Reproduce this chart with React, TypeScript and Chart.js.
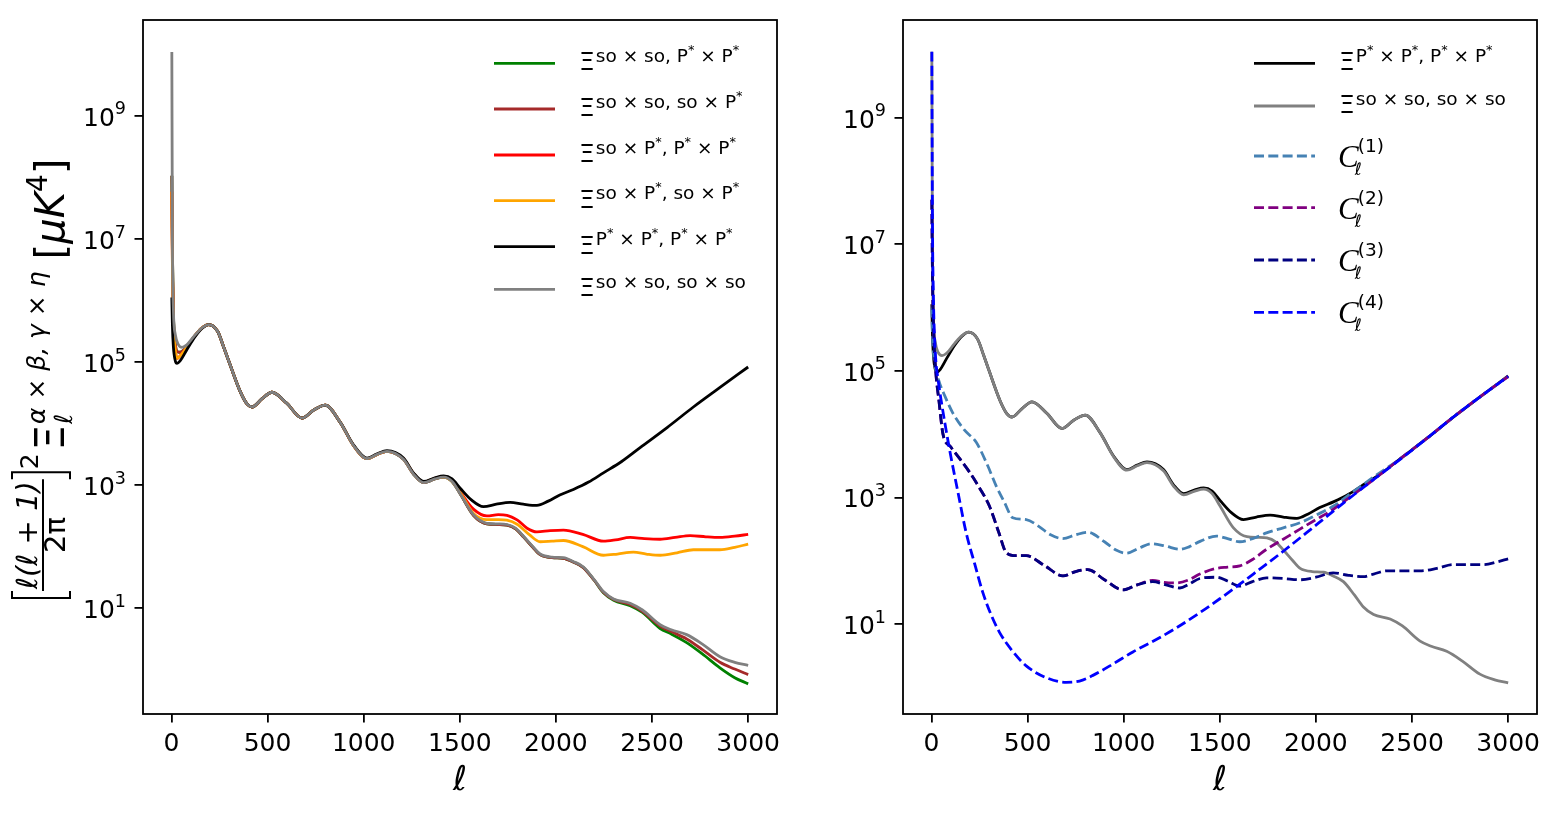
import React, { useEffect, useRef } from "react";
import { Chart, registerables } from "chart.js";
Chart.register(...registerables);

// ---------- axes ----------
const X_TICKS = [0, 500, 1000, 1500, 2000, 2500, 3000];
const Y_TICK_EXPONENTS = [1, 3, 5, 7, 9];

// ---------- data (ℓ and log10 of the value) ----------
const GRAY_L = [2, 5, 10, 20, 35, 55, 80, 120, 160, 194, 240, 271, 300, 358, 393, 419, 470, 523, 600, 679, 740, 800, 878, 948, 1017, 1070, 1121, 1207, 1259, 1312, 1370, 1416, 1460, 1502, 1571, 1641, 1700, 1745, 1790, 1831, 1880, 1918, 1980, 2039, 2090, 2143, 2200, 2247, 2300, 2386, 2450, 2542, 2600, 2680, 2760, 2853, 2930, 3000];
const GRAY_V = [10.04, 7.0, 5.85, 5.45, 5.29, 5.24, 5.28, 5.43, 5.56, 5.61, 5.5, 5.25, 5.0, 4.52, 4.32, 4.27, 4.4, 4.51, 4.33, 4.09, 4.22, 4.3, 4.02, 3.64, 3.43, 3.5, 3.55, 3.42, 3.18, 3.04, 3.1, 3.13, 3.06, 2.86, 2.52, 2.38, 2.37, 2.36, 2.3, 2.17, 2.0, 1.88, 1.83, 1.82, 1.76, 1.67, 1.46, 1.27, 1.15, 1.08, 0.97, 0.73, 0.65, 0.57, 0.42, 0.21, 0.12, 0.07];

const BLACK_L = [2, 5, 10, 20, 29, 45, 80, 120, 160, 194, 240, 271, 300, 358, 393, 419, 470, 523, 600, 679, 740, 800, 878, 948, 1017, 1070, 1121, 1207, 1259, 1312, 1370, 1416, 1460, 1502, 1560, 1623, 1690, 1762, 1830, 1901, 1960, 2020, 2091, 2170, 2247, 2340, 2438, 2580, 2715, 2850, 3000];
const BLACK_V = [6.05, 5.6, 5.25, 5.02, 4.98, 5.02, 5.2, 5.4, 5.55, 5.61, 5.5, 5.25, 5.0, 4.52, 4.32, 4.27, 4.4, 4.51, 4.33, 4.09, 4.22, 4.3, 4.02, 3.65, 3.44, 3.51, 3.56, 3.44, 3.2, 3.06, 3.12, 3.15, 3.1, 2.95, 2.76, 2.65, 2.69, 2.72, 2.69, 2.67, 2.74, 2.84, 2.93, 3.05, 3.2, 3.38, 3.61, 3.94, 4.27, 4.58, 4.92];

const RED_L = [2, 5, 10, 20, 30, 45, 80, 120, 160, 194, 240, 271, 300, 358, 393, 419, 470, 523, 600, 679, 740, 800, 878, 948, 1017, 1070, 1121, 1207, 1259, 1312, 1370, 1416, 1460, 1502, 1571, 1641, 1700, 1745, 1800, 1850, 1901, 1970, 2039, 2140, 2247, 2310, 2386, 2460, 2542, 2620, 2698, 2780, 2853, 2930, 3000];
const RED_V = [7.77, 6.6, 5.7, 5.2, 5.06, 5.1, 5.24, 5.42, 5.56, 5.61, 5.5, 5.25, 5.0, 4.52, 4.32, 4.27, 4.4, 4.51, 4.33, 4.09, 4.22, 4.3, 4.02, 3.64, 3.43, 3.5, 3.55, 3.43, 3.19, 3.05, 3.11, 3.14, 3.07, 2.89, 2.61, 2.5, 2.52, 2.51, 2.43, 2.3, 2.24, 2.26, 2.27, 2.2, 2.09, 2.11, 2.15, 2.13, 2.12, 2.15, 2.18, 2.16, 2.15, 2.17, 2.2];

const ORANGE_L = [2, 5, 10, 20, 30, 45, 80, 120, 160, 194, 240, 271, 300, 358, 393, 419, 470, 523, 600, 679, 740, 800, 878, 948, 1017, 1070, 1121, 1207, 1259, 1312, 1370, 1416, 1460, 1502, 1571, 1641, 1700, 1745, 1800, 1860, 1918, 1980, 2039, 2140, 2247, 2320, 2403, 2470, 2542, 2630, 2715, 2790, 2853, 2930, 3000];
const ORANGE_V = [7.77, 6.6, 5.7, 5.2, 5.06, 5.1, 5.24, 5.42, 5.56, 5.61, 5.5, 5.25, 5.0, 4.52, 4.32, 4.27, 4.4, 4.51, 4.33, 4.09, 4.22, 4.3, 4.02, 3.64, 3.43, 3.5, 3.55, 3.43, 3.19, 3.05, 3.11, 3.13, 3.06, 2.88, 2.54, 2.44, 2.44, 2.43, 2.36, 2.2, 2.08, 2.09, 2.1, 2.0, 1.86, 1.88, 1.91, 1.88, 1.86, 1.9, 1.95, 1.95, 1.95, 1.99, 2.04];

const BROWN_L = [2, 5, 10, 20, 30, 45, 80, 120, 160, 194, 240, 271, 300, 358, 393, 419, 470, 523, 600, 679, 740, 800, 878, 948, 1017, 1070, 1121, 1207, 1259, 1312, 1370, 1416, 1460, 1502, 1571, 1641, 1700, 1745, 1790, 1831, 1880, 1918, 1980, 2039, 2090, 2143, 2200, 2247, 2300, 2386, 2450, 2542, 2600, 2680, 2760, 2853, 2930, 3000];
const BROWN_V = [8.03, 6.8, 5.8, 5.3, 5.17, 5.16, 5.25, 5.42, 5.56, 5.61, 5.5, 5.25, 5.0, 4.52, 4.32, 4.27, 4.4, 4.51, 4.33, 4.09, 4.22, 4.3, 4.02, 3.64, 3.43, 3.5, 3.55, 3.42, 3.18, 3.04, 3.1, 3.13, 3.06, 2.86, 2.51, 2.37, 2.36, 2.35, 2.29, 2.16, 1.99, 1.87, 1.82, 1.81, 1.75, 1.66, 1.45, 1.26, 1.14, 1.06, 0.95, 0.71, 0.62, 0.5, 0.33, 0.12, 0.01, -0.08];

const GREEN_L = [2, 5, 10, 20, 30, 45, 80, 120, 160, 194, 240, 271, 300, 358, 393, 419, 470, 523, 600, 679, 740, 800, 878, 948, 1017, 1070, 1121, 1207, 1259, 1312, 1370, 1416, 1460, 1502, 1571, 1641, 1700, 1745, 1790, 1831, 1880, 1918, 1980, 2039, 2090, 2143, 2200, 2247, 2300, 2386, 2450, 2542, 2600, 2680, 2760, 2853, 2930, 3000];
const GREEN_V = [8.03, 6.8, 5.8, 5.3, 5.17, 5.16, 5.25, 5.42, 5.56, 5.61, 5.5, 5.25, 5.0, 4.52, 4.32, 4.27, 4.4, 4.51, 4.33, 4.09, 4.22, 4.3, 4.02, 3.64, 3.43, 3.5, 3.55, 3.42, 3.18, 3.04, 3.1, 3.13, 3.06, 2.86, 2.51, 2.37, 2.36, 2.35, 2.29, 2.16, 1.99, 1.87, 1.82, 1.81, 1.75, 1.66, 1.45, 1.25, 1.13, 1.04, 0.93, 0.67, 0.58, 0.44, 0.26, 0.03, -0.13, -0.23];

const C1_L = [2, 5, 10, 20, 42, 70, 110, 170, 233, 290, 337, 380, 423, 493, 560, 620, 683, 750, 813, 900, 960, 1014, 1080, 1144, 1220, 1292, 1340, 1400, 1483, 1540, 1604, 1680, 1743, 1830, 1917, 2000, 2089, 2190, 2299, 2438, 2580, 2715, 2850, 3000];
const C1_V = [6.0, 5.6, 5.3, 5.05, 4.81, 4.6, 4.34, 4.07, 3.87, 3.52, 3.18, 2.92, 2.68, 2.65, 2.54, 2.41, 2.35, 2.41, 2.45, 2.3, 2.17, 2.12, 2.2, 2.27, 2.23, 2.18, 2.22, 2.31, 2.39, 2.35, 2.3, 2.36, 2.44, 2.52, 2.6, 2.72, 2.86, 3.08, 3.32, 3.61, 3.94, 4.27, 4.58, 4.91];

const C2_L = [2, 5, 10, 20, 40, 60, 100, 150, 198, 250, 302, 350, 389, 440, 493, 590, 684, 750, 813, 900, 996, 1070, 1151, 1210, 1274, 1340, 1396, 1483, 1540, 1604, 1670, 1743, 1830, 1917, 2000, 2089, 2170, 2264, 2350, 2438, 2580, 2715, 2850, 3000];
const C2_V = [7.7, 6.6, 5.8, 5.1, 4.5, 4.0, 3.8, 3.6, 3.4, 3.15, 2.86, 2.45, 2.13, 2.08, 2.08, 1.92, 1.76, 1.83, 1.86, 1.7, 1.54, 1.62, 1.69, 1.66, 1.65, 1.7, 1.79, 1.88, 1.9, 1.92, 2.02, 2.18, 2.34, 2.5, 2.65, 2.81, 2.99, 3.2, 3.4, 3.61, 3.94, 4.27, 4.58, 4.91];

const C3_L = [2, 5, 10, 20, 40, 60, 100, 150, 198, 250, 302, 350, 389, 440, 493, 590, 684, 750, 813, 900, 996, 1070, 1151, 1220, 1292, 1340, 1396, 1483, 1540, 1604, 1670, 1743, 1830, 1917, 2000, 2089, 2170, 2247, 2300, 2368, 2450, 2542, 2630, 2715, 2800, 2872, 2940, 3000];
const C3_V = [7.7, 6.6, 5.8, 5.1, 4.5, 4.0, 3.8, 3.6, 3.4, 3.15, 2.86, 2.45, 2.13, 2.08, 2.08, 1.92, 1.76, 1.83, 1.86, 1.7, 1.54, 1.62, 1.67, 1.62, 1.57, 1.63, 1.72, 1.74, 1.68, 1.6, 1.67, 1.73, 1.72, 1.7, 1.74, 1.81, 1.77, 1.75, 1.79, 1.84, 1.84, 1.84, 1.88, 1.94, 1.94, 1.94, 1.98, 2.03];

const C4_L = [2, 5, 10, 20, 35, 50, 94, 140, 180, 225, 267, 310, 354, 420, 493, 600, 701, 770, 840, 950, 1048, 1160, 1274, 1396, 1500, 1604, 1700, 1830, 1950, 2089, 2264, 2438, 2580, 2715, 2850, 3000];
const C4_V = [10.04, 7.5, 6.2, 5.3, 4.85, 4.54, 3.76, 3.05, 2.45, 1.95, 1.5, 1.15, 0.87, 0.58, 0.34, 0.15, 0.08, 0.1, 0.19, 0.38, 0.56, 0.74, 0.94, 1.18, 1.4, 1.63, 1.85, 2.15, 2.44, 2.78, 3.2, 3.6, 3.94, 4.27, 4.58, 4.91];

// ---------- legend texts ----------
const LEFT_LABELS = ["so × so, P* × P*", "so × so, so × P*", "so × P*, P* × P*", "so × P*, so × P*", "P* × P*, P* × P*", "so × so, so × so"];
const RIGHT_XI_LABELS = ["P* × P*, P* × P*", "so × so, so × so"];
const RIGHT_C_LABELS = ["(1)", "(2)", "(3)", "(4)"];

const SANS = '"DejaVu Sans", sans-serif';
const SERIF = '"Liberation Serif", "DejaVu Serif", serif';
const LINE_W = 2.8;
const DASH = [10, 4.3];
const TICK_FONT = 25;

type Series = { l: number[]; v: number[]; color: string; dashed?: boolean; label: string; kind: "xi" | "c" };

const LEFT_SERIES: Series[] = [
  { l: GREEN_L, v: GREEN_V, color: "#008000", label: LEFT_LABELS[0], kind: "xi" },
  { l: BROWN_L, v: BROWN_V, color: "#a52a2a", label: LEFT_LABELS[1], kind: "xi" },
  { l: RED_L, v: RED_V, color: "#ff0000", label: LEFT_LABELS[2], kind: "xi" },
  { l: ORANGE_L, v: ORANGE_V, color: "#ffa500", label: LEFT_LABELS[3], kind: "xi" },
  { l: BLACK_L, v: BLACK_V, color: "#000000", label: LEFT_LABELS[4], kind: "xi" },
  { l: GRAY_L, v: GRAY_V, color: "#808080", label: LEFT_LABELS[5], kind: "xi" },
];
const RIGHT_SERIES: Series[] = [
  { l: BLACK_L, v: BLACK_V, color: "#000000", label: RIGHT_XI_LABELS[0], kind: "xi" },
  { l: GRAY_L, v: GRAY_V, color: "#808080", label: RIGHT_XI_LABELS[1], kind: "xi" },
  { l: C1_L, v: C1_V, color: "#4682b4", dashed: true, label: RIGHT_C_LABELS[0], kind: "c" },
  { l: C2_L, v: C2_V, color: "#800080", dashed: true, label: RIGHT_C_LABELS[1], kind: "c" },
  { l: C3_L, v: C3_V, color: "#000080", dashed: true, label: RIGHT_C_LABELS[2], kind: "c" },
  { l: C4_L, v: C4_V, color: "#0000ff", dashed: true, label: RIGHT_C_LABELS[3], kind: "c" },
];

type Panel = {
  series: Series[];
  axisLeft: number;
  padRight: number;
  yMinExp: number;
  yMaxExp: number;
  legendRows: number[];
  ylabel: boolean;
};

const LEFT_PANEL: Panel = { series: LEFT_SERIES, axisLeft: 143, padRight: 3, yMinExp: -0.72, yMaxExp: 10.56, legendRows: [63.3, 109, 155, 200.7, 246.7, 289.3], ylabel: true };
const RIGHT_PANEL: Panel = { series: RIGHT_SERIES, axisLeft: 123, padRight: 23, yMinExp: -0.42, yMaxExp: 10.54, legendRows: [63.3, 106, 156, 207.7, 260, 312.3], ylabel: false };

function setFont(ctx: CanvasRenderingContext2D, size: number, family = SANS, style = "") {
  ctx.font = `${style} ${size}px ${family}`.trim();
}
function put(ctx: CanvasRenderingContext2D, s: string, x: number, y: number, size: number, family = SANS, style = "") {
  setFont(ctx, size, family, style);
  ctx.fillText(s, x, y);
  return ctx.measureText(s).width;
}
function measure(ctx: CanvasRenderingContext2D, s: string, size: number, family = SANS, style = "") {
  setFont(ctx, size, family, style);
  return ctx.measureText(s).width;
}
// text where '*' is a raised small star
function putStar(ctx: CanvasRenderingContext2D, text: string, x: number, y: number, size: number) {
  let cx = x;
  for (const p of text.split(/(\*)/)) {
    if (!p) continue;
    if (p === "*") cx += put(ctx, "*", cx, y - size * 0.42, size * 0.7);
    else cx += put(ctx, p, cx, y, size);
  }
  return cx;
}

function bracket(ctx: CanvasRenderingContext2D, x: number, y0: number, y1: number, dir: number) {
  ctx.beginPath();
  ctx.moveTo(x + dir * 7, y0);
  ctx.lineTo(x, y0);
  ctx.lineTo(x, y1);
  ctx.lineTo(x + dir * 7, y1);
  ctx.stroke();
}

function drawYLabel(ctx: CanvasRenderingContext2D) {
  ctx.save();
  ctx.translate(64, 600);
  ctx.rotate(-Math.PI / 2);
  ctx.fillStyle = "#000";
  ctx.strokeStyle = "#000";
  ctx.lineWidth = 2;
  ctx.textAlign = "left";
  ctx.textBaseline = "alphabetic";
  let cx = 0;
  const B = 40;
  const F = 29;
  const S = 25;
  bracket(ctx, cx + 2, -52, 6, 1);
  cx += 9;
  const num = "ℓ(ℓ + 1)";
  const den = "2π";
  const nw = measure(ctx, num, F, SANS, "italic");
  const dw = measure(ctx, den, F);
  const fw = Math.max(nw, dw) + 4;
  put(ctx, num, cx + (fw - nw) / 2, -27, F, SANS, "italic");
  ctx.beginPath();
  ctx.moveTo(cx, -21);
  ctx.lineTo(cx + fw, -21);
  ctx.stroke();
  put(ctx, den, cx + (fw - dw) / 2, 1, F);
  cx += fw + 2;
  bracket(ctx, cx + 5, -52, 6, -1);
  cx += 8;
  cx += put(ctx, "2", cx, -26, S) + 3;
  cx += put(ctx, "Ξ", cx, 0, B) + 1;
  const sw = put(ctx, "ℓ", cx, 8, S, SANS, "italic");
  const pw = put(ctx, "α × β, γ × η", cx, -19, S, SANS, "italic");
  cx += Math.max(sw, pw) + 12;
  cx += put(ctx, "[", cx, 0, B);
  cx += put(ctx, "μK", cx, 0, B, SANS, "italic");
  cx += put(ctx, "4", cx, -B * 0.42, B * 0.7);
  put(ctx, "]", cx, 0, B);
  ctx.restore();
}

function drawLegend(ctx: CanvasRenderingContext2D, chart: any, panel: Panel) {
  const right = chart.chartArea.right;
  const x0 = right - 283;
  const tx = right - 198;
  panel.series.forEach((s, i) => {
    const y = panel.legendRows[i];
    ctx.save();
    ctx.strokeStyle = s.color;
    ctx.lineWidth = LINE_W;
    ctx.setLineDash(s.dashed ? DASH : []);
    ctx.beginPath();
    ctx.moveTo(x0, y);
    ctx.lineTo(x0 + 61, y);
    ctx.stroke();
    ctx.restore();
    ctx.fillStyle = "#000";
    ctx.textAlign = "left";
    ctx.textBaseline = "alphabetic";
    if (s.kind === "xi") {
      const w = put(ctx, "Ξ", tx, y + 7, TICK_FONT);
      putStar(ctx, s.label, tx + w + 1, y - 1.5, 18.5);
    } else {
      const w = put(ctx, "C", tx - 1, y + 11, 31, SERIF, "italic");
      put(ctx, "ℓ", tx + w - 5, y + 19, 17, SANS, "italic");
      put(ctx, s.label, tx + w - 2, y - 4, 18.5);
    }
  });
}

function makeConfig(panel: Panel): any {
  const grid = {
    drawOnChartArea: false,
    drawTicks: true,
    tickLength: 8.5,
    tickWidth: 1.8,
    tickColor: "#000",
    color: "#000",
    lineWidth: 1.8,
  };
  const n = panel.series.length;
  const plugin = {
    id: "decor",
    afterDraw(chart: any) {
      const ctx: CanvasRenderingContext2D = chart.ctx;
      const a = chart.chartArea;
      const xs = chart.scales.x;
      const ys = chart.scales.y;
      ctx.save();
      ctx.strokeStyle = "#000";
      ctx.lineWidth = 1.8;
      ctx.strokeRect(a.left, a.top, a.right - a.left, a.bottom - a.top);
      ctx.fillStyle = "#000";
      // x tick labels
      ctx.textAlign = "center";
      ctx.textBaseline = "alphabetic";
      setFont(ctx, TICK_FONT);
      for (const v of X_TICKS) ctx.fillText(String(v), xs.getPixelForValue(v), 751);
      // y tick labels
      ctx.textAlign = "left";
      for (const e of Y_TICK_EXPONENTS) {
        const y = ys.getPixelForValue(Math.pow(10, e));
        const we = measure(ctx, String(e), TICK_FONT * 0.7);
        const wb = measure(ctx, "10", TICK_FONT);
        const xr = a.left - 17;
        put(ctx, "10", xr - we - wb, y + 10, TICK_FONT);
        put(ctx, String(e), xr - we, y - 1.5, TICK_FONT * 0.7);
      }
      // x label
      ctx.textAlign = "center";
      put(ctx, "ℓ", (a.left + a.right) / 2, 790, 34, SANS, "italic");
      ctx.textAlign = "left";
      if (panel.ylabel) drawYLabel(ctx);
      drawLegend(ctx, chart, panel);
      ctx.restore();
    },
  };
  return {
    type: "line",
    data: {
      datasets: panel.series.map((s, i) => ({
        label: s.label,
        data: s.l.map((l, j) => ({ x: l, y: Math.pow(10, s.v[j]) })),
        borderColor: s.color,
        borderWidth: LINE_W,
        borderDash: s.dashed ? DASH : [],
        pointRadius: 0,
        fill: false,
        cubicInterpolationMode: "monotone",
        order: n - i,
      })),
    },
    options: {
      animation: false,
      responsive: false,
      devicePixelRatio: 1,
      events: [],
      layout: { padding: { top: 20, right: panel.padRight, left: 0, bottom: 0 } },
      plugins: { legend: { display: false }, tooltip: { enabled: false } },
      scales: {
        x: {
          type: "linear",
          min: -148,
          max: 3150,
          afterBuildTicks: (s: any) => {
            s.ticks = X_TICKS.map((v) => ({ value: v }));
          },
          afterFit: (s: any) => {
            s.height = 100;
          },
          ticks: { display: false },
          grid,
          border: { display: false },
        },
        y: {
          type: "logarithmic",
          min: Math.pow(10, panel.yMinExp),
          max: Math.pow(10, panel.yMaxExp),
          afterBuildTicks: (s: any) => {
            s.ticks = Y_TICK_EXPONENTS.map((e) => ({ value: Math.pow(10, e) }));
          },
          afterFit: (s: any) => {
            s.width = panel.axisLeft;
          },
          ticks: { display: false },
          grid,
          border: { display: false },
        },
      },
    },
    plugins: [plugin],
  };
}

export default function App() {
  const leftRef = useRef<HTMLCanvasElement>(null);
  const rightRef = useRef<HTMLCanvasElement>(null);
  useEffect(() => {
    const c1 = new Chart(leftRef.current!, makeConfig(LEFT_PANEL));
    const c2 = new Chart(rightRef.current!, makeConfig(RIGHT_PANEL));
    return () => {
      c1.destroy();
      c2.destroy();
    };
  }, []);
  return (
    <div style={{ position: "fixed", left: 0, top: 0, width: 1560, height: 814, background: "#fff" }}>
      <canvas ref={leftRef} width={780} height={814} style={{ position: "absolute", left: 0, top: 0, width: 780, height: 814 }} />
      <canvas ref={rightRef} width={780} height={814} style={{ position: "absolute", left: 780, top: 0, width: 780, height: 814 }} />
    </div>
  );
}
